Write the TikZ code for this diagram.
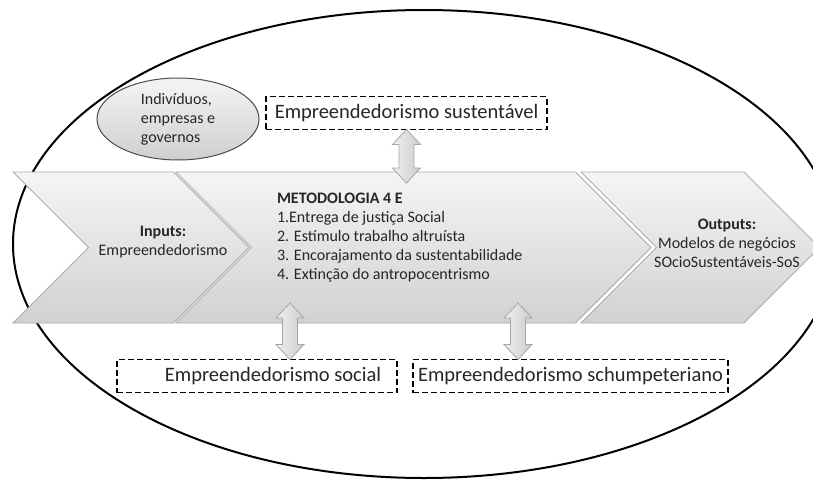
\documentclass[tikz,border=0pt]{standalone}
\usepackage{fontspec}
\setmainfont{Carlito}
\usetikzlibrary{shapes.symbols,shapes.geometric,calc}

% vertical two-way block arrow, x from the first point
\newcommand\twoway[2]{%
  \path[blockarrow] let \p1=#1, \p2=#2 in
    (\x1,\y1) -- (\x1+14pt,\y1-15pt) -- (\x1+7.5pt,\y1-15pt)
    -- (\x1+7.5pt,\y2+15pt) -- (\x1+14pt,\y2+15pt) -- (\x1,\y2)
    -- (\x1-14pt,\y2+15pt) -- (\x1-7.5pt,\y2+15pt)
    -- (\x1-7.5pt,\y1-15pt) -- (\x1-14pt,\y1-15pt) -- cycle;}

\begin{document}
\begin{tikzpicture}[x=1pt,y=-1pt,
			every node/.style = {inner sep=0pt, outer sep=0pt, text=black!85},
			chevron/.style={shape=signal, signal from=west, signal to=east,
				signal pointer angle=90, minimum height=151,
				draw=gray!65, line width=0.8pt,
				top color=gray!8, bottom color=gray!36},
			dashbox/.style={draw, dash pattern=on 6pt off 3pt, line width=1.9pt,
				fill=white, minimum height=33,
				font=\fontsize{20.5}{24}\selectfont},
			blockarrow/.style={draw=gray!70, line width=0.8pt,
				left color=gray!12, right color=gray!40},
			body/.style={font=\fontsize{16}{19}\selectfont}]
		\useasboundingbox (0,0) rectangle (813,479);
		\node[ellipse, draw, line width=2pt, minimum width=822, minimum height=468] (world) at (424,244) {};
		% the three steps
		\node[chevron, minimum width=236] (inp) at (131,247.5) {};
		\node[chevron, minimum width=475] (met) at (413.5,247.5) {};
		\node[chevron, minimum width=238.5] (outp) at (700.25,247.5) {};
		\node[body, align=center] (inptxt) at (163,242) {\textbf{Inputs:}\\Empreendedorismo};
		\node[body, align=left, anchor=west] (mettxt) at (277,238) {\textbf{METODOLOGIA 4 E}\\
			1.Entrega de justiça Social\\
			2. Estímulo trabalho altruísta\\
			3. Encorajamento da sustentabilidade\\
			4. Extinção do antropocentrismo};
		\node[body, align=center] (outptxt) at (727,243) {\textbf{Outputs:}\\Modelos de negócios\\SOcioSustentáveis-SoS};
		\node[ellipse, body, align=left, draw=black!70, line width=1pt,
			top color=gray!8, bottom color=gray!38,
			minimum width=162, minimum height=82] (actors) at (178,119) {Indivíduos,\\empresas e\\governos};
		% the three boxes
		\node[dashbox, minimum width=281] (sust) at (406.5,113) {Empreendedorismo sustentável};
		\node[dashbox, minimum width=280] (soc) at (257,376) {\hspace*{32pt}Empreendedorismo social};
		\node[dashbox, minimum width=315] (sch) at (570.5,376) {Empreendedorismo schumpeteriano};
		% arrows to the boxes
		\coordinate (socin) at (290,303);
		\coordinate (schin) at (518,303);
		\twoway{(sust.south)}{([yshift=-11pt]met.north)}
		\twoway{(socin)}{(soc.north)}
		\twoway{(schin)}{(sch.north)}
\end{tikzpicture}
\end{document}
